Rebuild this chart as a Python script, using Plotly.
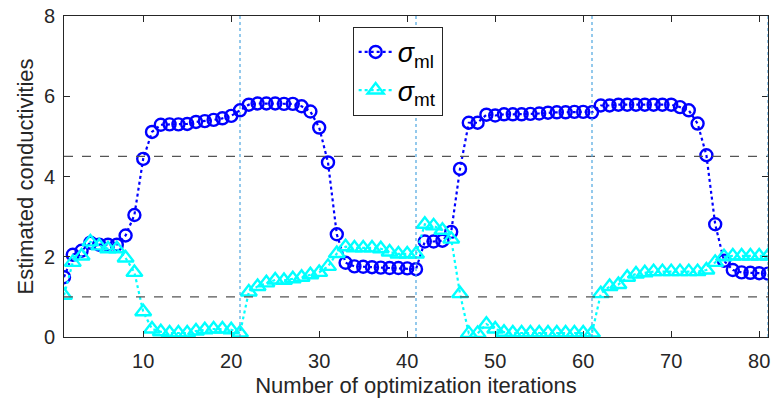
import plotly.graph_objects as go

# Iteration index
iterations = list(range(1, 82))

# Estimated longitudinal conductivity sigma_ml
sigma_ml = [
    1.49, 2.05, 2.15, 2.35, 2.30, 2.30, 2.30, 2.53, 3.04, 4.44,
    5.11, 5.29, 5.30, 5.30, 5.31, 5.36, 5.38, 5.41, 5.45, 5.51,
    5.65, 5.79, 5.82, 5.82, 5.82, 5.81, 5.81, 5.75, 5.62, 5.22,
    4.35, 2.56, 1.85, 1.76, 1.75, 1.74, 1.73, 1.72, 1.72, 1.71,
    1.69, 2.38, 2.38, 2.40, 2.62, 4.19, 5.34, 5.34, 5.54, 5.52,
    5.55, 5.55, 5.55, 5.56, 5.57, 5.59, 5.60, 5.60, 5.61, 5.61,
    5.60, 5.77, 5.77, 5.79, 5.79, 5.79, 5.79, 5.79, 5.79, 5.79,
    5.73, 5.65, 5.32, 4.53, 2.81, 1.90, 1.67, 1.61, 1.60, 1.59,
    1.58,
]

# Estimated transverse conductivity sigma_mt
sigma_mt = [
    1.04, 1.86, 2.02, 2.37, 2.27, 2.20, 2.20, 1.97, 1.61, 0.63,
    0.20, 0.13, 0.10, 0.10, 0.10, 0.15, 0.18, 0.20, 0.20, 0.18,
    0.10, 1.12, 1.26, 1.35, 1.42, 1.41, 1.45, 1.49, 1.55, 1.61,
    1.76, 2.08, 2.25, 2.22, 2.22, 2.22, 2.20, 2.12, 2.07, 2.07,
    2.07, 2.81, 2.77, 2.66, 2.44, 1.08, 0.09, 0.09, 0.32, 0.20,
    0.12, 0.10, 0.10, 0.10, 0.10, 0.10, 0.10, 0.10, 0.10, 0.10,
    0.10, 1.08, 1.26, 1.31, 1.49, 1.57, 1.60, 1.63, 1.63, 1.63,
    1.63, 1.63, 1.63, 1.67, 1.86, 2.00, 2.02, 2.02, 2.02, 2.02,
    2.02,
]

# Reference levels and stage boundaries
ref_levels = [4.5, 1.0]
stage_bounds = [21, 41, 61, 81]

x_ticks = [10, 20, 30, 40, 50, 60, 70, 80]
y_ticks = [0, 2, 4, 6, 8]

FONT = "Liberation Sans, Arial, sans-serif"

fig = go.Figure()

fig.add_trace(go.Scatter(
    x=iterations, y=sigma_ml, mode="lines+markers",
    name="<i>σ</i><sub>ml</sub>",
    line=dict(color="#0000FF", width=2.2, dash="dot"),
    marker=dict(symbol="circle-open", size=12, color="#0000FF",
                line=dict(width=2.4, color="#0000FF")),
))
fig.add_trace(go.Scatter(
    x=iterations, y=sigma_mt, mode="lines+markers",
    name="<i>σ</i><sub>mt</sub>",
    line=dict(color="#00FFFF", width=2.2, dash="dot"),
    marker=dict(symbol="triangle-up-open", size=14, color="#00FFFF",
                line=dict(width=2.4, color="#00FFFF")),
))

for lvl in ref_levels:
    fig.add_shape(type="line", xref="paper", x0=0, x1=1, yref="y", y0=lvl, y1=lvl,
                  line=dict(color="#555555", width=1.3, dash="dash"), layer="above")

for xb in stage_bounds:
    fig.add_shape(type="line", xref="x", x0=xb, x1=xb, yref="paper", y0=0, y1=1,
                  line=dict(color="#4DA6DF", width=1.2, dash="dot"), layer="above")

axis_common = dict(
    showgrid=False, zeroline=False, showline=True, linecolor="#262626", linewidth=1,
    mirror="ticks", ticks="inside", ticklen=6, tickcolor="#262626",
    tickfont=dict(family=FONT, size=20, color="#262626"),
)

fig.update_xaxes(range=[1, 81], tickvals=x_ticks, ticklabelstandoff=6,
                 title=dict(text="Number of optimization iterations", standoff=6,
                            font=dict(family=FONT, size=22, color="#262626")),
                 **axis_common)
fig.update_yaxes(range=[0, 8], tickvals=y_ticks, ticklabelstandoff=4,
                 title=dict(text="Estimated conductivities", standoff=4,
                            font=dict(family=FONT, size=22, color="#262626")),
                 **axis_common)

fig.update_layout(
    width=775, height=404,
    margin=dict(l=64, r=5, t=13, b=67),
    paper_bgcolor="white", plot_bgcolor="white",
    showlegend=True,
    legend=dict(x=0.41, y=0.966, xanchor="left", yanchor="top",
                bgcolor="white", bordercolor="#262626", borderwidth=1,
                font=dict(family=FONT, size=27, color="#000000"),
                itemwidth=34, tracegroupgap=0),
)

fig.write_html("out.html")
